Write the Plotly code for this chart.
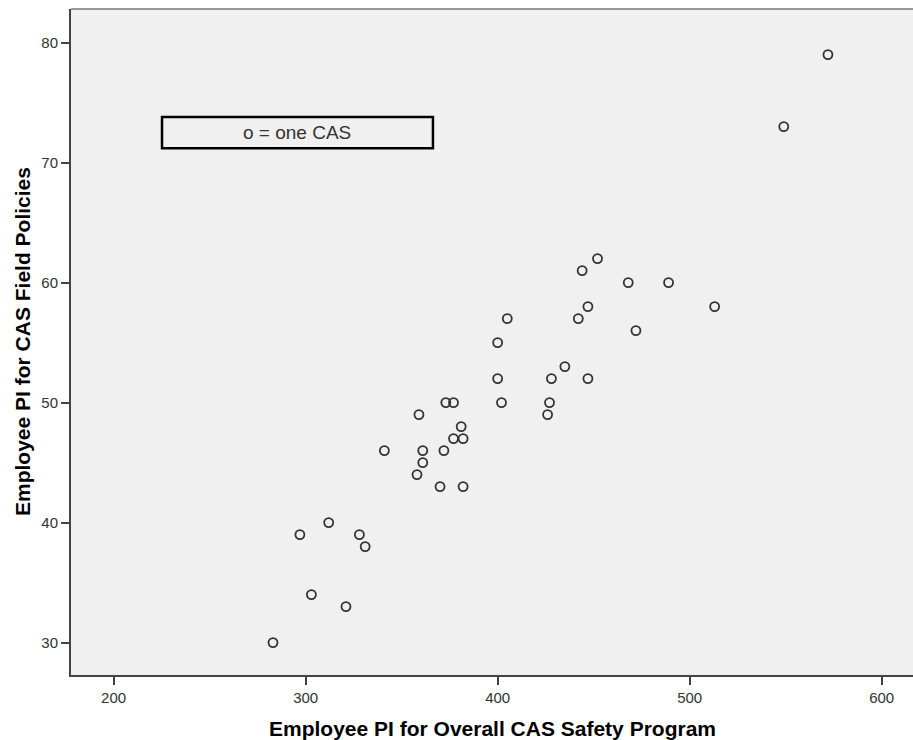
import plotly.graph_objects as go

# Data: one point per CAS
overall_pi = [572, 549, 452, 444, 468, 489, 513, 447, 442, 405, 472, 400, 435,
              400, 428, 447, 373, 377, 402, 427, 359, 426, 381, 377, 382, 341,
              361, 372, 361, 358, 370, 382, 312, 297, 328, 331, 303, 321, 283]
field_pi = [79, 73, 62, 61, 60, 60, 58, 58, 57, 57, 56, 55, 53,
            52, 52, 52, 50, 50, 50, 50, 49, 49, 48, 47, 47, 46,
            46, 46, 45, 44, 43, 43, 40, 39, 39, 38, 34, 33, 30]

x_ticks = [200, 300, 400, 500, 600]
y_ticks = [30, 40, 50, 60, 70, 80]

x_title = "Employee PI for Overall CAS Safety Program"
y_title = "Employee PI for CAS Field Policies"
legend_text = "o = one CAS"

FONT = "Liberation Sans, Arial, sans-serif"

W, H = 913, 740
ML, MT, MB = 71, 9, 65
PW = W - ML
PH = H - MT - MB

fig = go.Figure()
fig.add_trace(go.Scatter(
    x=overall_pi, y=field_pi, mode="markers",
    marker=dict(symbol="circle-open", size=9, color="#333333",
                line=dict(width=1.8, color="#333333")),
    hoverinfo="x+y", showlegend=False,
))

fig.update_layout(
    width=W, height=H,
    margin=dict(l=ML, r=0, t=MT, b=MB),
    paper_bgcolor="white",
    plot_bgcolor="#F0F0F0",
    font=dict(family=FONT, color="#333333"),
    xaxis=dict(range=[177.8, 616.3], tickvals=x_ticks, showgrid=False, zeroline=False,
               showline=True, linewidth=2, linecolor="#444444",
               ticks="outside", ticklen=8, tickwidth=2, tickcolor="#444444",
               tickfont=dict(size=15, color="#333333", family=FONT)),
    yaxis=dict(range=[27.3, 82.8], tickvals=y_ticks, showgrid=False, zeroline=False,
               showline=True, linewidth=2, linecolor="#444444",
               ticks="outside", ticklen=8, tickwidth=2, tickcolor="#444444",
               tickfont=dict(size=15, color="#333333", family=FONT)),
    shapes=[
        dict(type="line", xref="paper", yref="paper", x0=0, x1=1, y0=1, y1=1,
             line=dict(color="#777777", width=1.5)),
        dict(type="rect", xref="x", yref="y", x0=225.2, x1=366.3, y0=71.2, y1=73.8,
             line=dict(color="black", width=2.5), fillcolor="rgba(0,0,0,0)"),
    ],
    annotations=[
        dict(text=legend_text, x=295.7, y=72.5, xref="x", yref="y", showarrow=False,
             font=dict(size=19, color="#333333", family=FONT)),
        dict(text="<b>" + x_title + "</b>", x=0.5, y=-(728 - 675) / PH,
             xref="paper", yref="paper",
             xanchor="center", yanchor="middle", showarrow=False,
             font=dict(size=21, color="black", family=FONT)),
        dict(text="<b>" + y_title + "</b>", x=(22 - 71) / PW, y=0.5,
             xref="paper", yref="paper", showarrow=False, textangle=-90,
             xanchor="center", yanchor="middle",
             font=dict(size=21, color="black", family=FONT)),
    ],
)

fig.write_html(
    "out.html",
    config={"displayModeBar": False},
    post_script="document.documentElement.style.overflow='hidden';"
                "document.body.style.margin='0';document.body.style.overflow='hidden';",
)
